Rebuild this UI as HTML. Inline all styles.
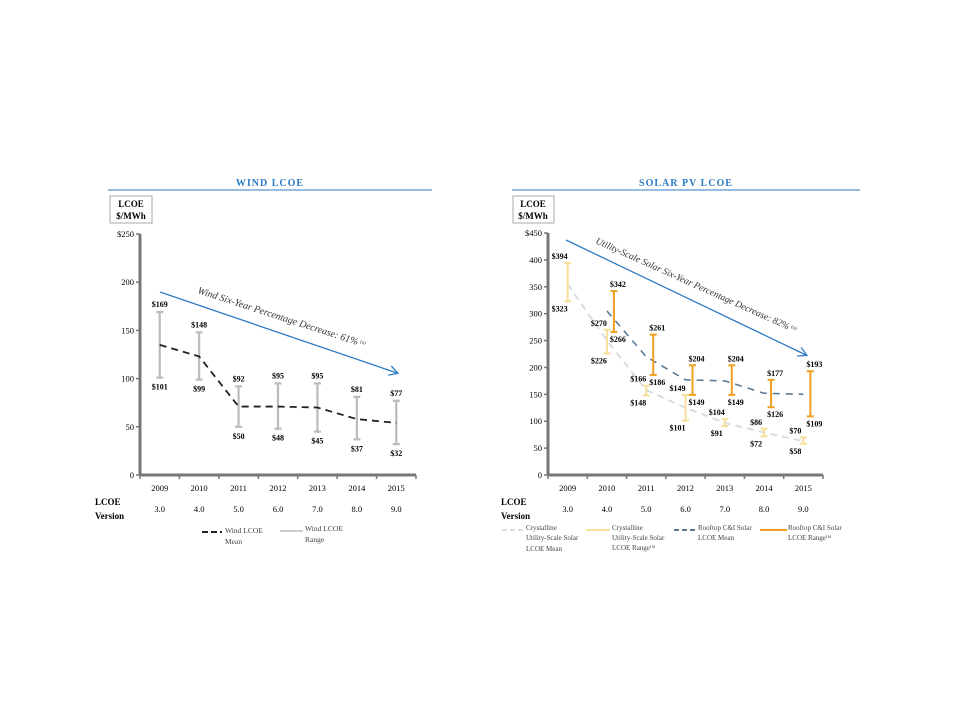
<!DOCTYPE html>
<html><head><meta charset="utf-8">
<style>
body{margin:0;background:#fff;width:960px;height:720px;overflow:hidden;font-family:"Liberation Serif",serif;}
svg{position:absolute;left:0;top:0}
</style></head>
<body>
<svg id="c" width="960" height="720" viewBox="0 0 960 720">
<defs>
<marker id="ah" markerWidth="10" markerHeight="10" refX="8" refY="5" orient="auto" markerUnits="userSpaceOnUse">
<path d="M0,0 L9,5 L0,10" fill="none" stroke="#2e7bc4" stroke-width="1.3"/></marker>
</defs>
<text x="270" y="186" text-anchor="middle" font-size="10" font-weight="bold" fill="#2e7bc4" letter-spacing="1">WIND LCOE</text>
<line x1="108" y1="190" x2="432" y2="190" stroke="#2e7bc4" stroke-width="1"/>
<rect x="110" y="196" width="42" height="27" fill="#fff" stroke="#aaa"/>
<text x="131" y="207" text-anchor="middle" font-size="9" font-weight="bold">LCOE</text>
<text x="131" y="219" text-anchor="middle" font-size="9" font-weight="bold">$/MWh</text>
<text x="95" y="505" font-size="9" font-weight="bold">LCOE</text>
<text x="95" y="519" font-size="9" font-weight="bold">Version</text>
<g>
<line x1="202" y1="532" x2="222" y2="532" stroke="#222" stroke-width="2" stroke-dasharray="6,3"/>
<text x="225" y="533" font-size="7.5" fill="#444">Wind LCOE</text><text x="225" y="544" font-size="7.5" fill="#444">Mean</text>
<line x1="280" y1="531" x2="303" y2="531" stroke="#bbb" stroke-width="1.5"/>
<text x="305" y="531" font-size="7.5" fill="#444">Wind LCOE</text><text x="305" y="542" font-size="7.5" fill="#444">Range</text>
</g>
<text x="686" y="186" text-anchor="middle" font-size="10" font-weight="bold" fill="#2e7bc4" letter-spacing="1">SOLAR PV LCOE</text>
<line x1="512" y1="190" x2="860" y2="190" stroke="#2e7bc4" stroke-width="1"/>
<rect x="513" y="196" width="41" height="27" fill="#fff" stroke="#aaa"/>
<text x="533" y="207" text-anchor="middle" font-size="9" font-weight="bold">LCOE</text>
<text x="533" y="219" text-anchor="middle" font-size="9" font-weight="bold">$/MWh</text>
<text x="501" y="505" font-size="9" font-weight="bold">LCOE</text>
<text x="501" y="519" font-size="9" font-weight="bold">Version</text>
<g font-size="7" fill="#444">
<line x1="502" y1="530" x2="524" y2="530" stroke="#d8dde2" stroke-width="2" stroke-dasharray="5,3"/>
<text x="526" y="530">Crystalline</text><text x="526" y="540">Utility-Scale Solar</text><text x="526" y="551">LCOE Mean</text>
<line x1="586" y1="530" x2="610" y2="530" stroke="#f7df9a" stroke-width="2"/>
<text x="612" y="530">Crystalline</text><text x="612" y="540">Utility-Scale Solar</text><text x="612" y="550">LCOE Range⁽ᵇ⁾</text>
<line x1="674" y1="530" x2="696" y2="530" stroke="#5a7a96" stroke-width="2" stroke-dasharray="5,3"/>
<text x="698" y="530">Rooftop C&amp;I Solar</text><text x="698" y="540">LCOE Mean</text>
<line x1="760" y1="530" x2="787" y2="530" stroke="#f0a020" stroke-width="2"/>
<text x="788" y="530">Rooftop C&amp;I Solar</text><text x="788" y="540">LCOE Range⁽ᵇ⁾</text>
</g>
</svg>
<script>
const years=["2009","2010","2011","2012","2013","2014","2015"];
const versions=["3.0","4.0","5.0","6.0","7.0","8.0","9.0"];
const windHigh=[169,148,92,95,95,81,77];
const windLow=[101,99,50,48,45,37,32];
const windMean=[135,123,71,71,70,58,54];
const windTicks=[0,50,100,150,200,250];
const usHigh=[394,270,166,149,104,86,70];
const usLow=[323,226,148,101,91,72,58];
const usMean=[355,250,158,125,97,79,63];
const rtHigh=[null,342,261,204,204,177,193];
const rtLow=[null,266,186,149,149,126,109];
const rtMean=[null,305,220,177,175,152,150];
const solarTicks=[0,50,100,150,200,250,300,350,400,450];

const svg=document.getElementById('c');
const NS='http://www.w3.org/2000/svg';
function mk(tag,attrs,parent,txt){const e=document.createElementNS(NS,tag);for(const k in attrs)e.setAttribute(k,attrs[k]);if(txt!=null)e.textContent=txt;(parent||svg).appendChild(e);return e;}

function drawAxes(name,x0,x1,y0,yTop,maxV,ticks,x,y){
  const g=mk('g',{});
  
  
  mk('line',{x1:x0,y1:yTop,x2:x0,y2:y0,stroke:'#777','stroke-width':3},g);
  mk('line',{x1:x0,y1:y0,x2:x1,y2:y0,stroke:'#777','stroke-width':3},g);
  ticks.forEach((t,i)=>{
    mk('line',{x1:x0-4,y1:y(t),x2:x0,y2:y(t),stroke:'#777','stroke-width':1.5},g);
    const lab=mk('text',{x:x0-6,y:y(t)+3,'text-anchor':'end','font-size':8.5},g,i===ticks.length-1?'$'+t:String(t));
    
    
  });
  const step=(x1-x0)/7;
  for(let i=0;i<=7;i++) mk('line',{x1:x0+i*step,y1:y0,x2:x0+i*step,y2:y0+4,stroke:'#777','stroke-width':1.5},g);
  years.forEach((yr,i)=>{
    const t=mk('text',{x:x(i),y:y0+16,'text-anchor':'middle','font-size':8.5},g,yr);
    
    
    const v=mk('text',{x:x(i),y:y0+37,'text-anchor':'middle','font-size':8.5},g,versions[i]);
    
    
  });
}
function errbar(xc,hi,lo,y,color,w,name){
  const g=mk('g',{});
  
  
  mk('line',{x1:xc,y1:y(hi),x2:xc,y2:y(lo),stroke:color,'stroke-width':w},g);
  mk('line',{x1:xc-3.5,y1:y(hi),x2:xc+3.5,y2:y(hi),stroke:color,'stroke-width':w},g);
  mk('line',{x1:xc-3.5,y1:y(lo),x2:xc+3.5,y2:y(lo),stroke:color,'stroke-width':w},g);
}
function label(x,yy,txt,name){
  const t=mk('text',{x:x,y:yy,'text-anchor':'middle','font-size':8,'font-weight':'bold'},null,txt);
  
  
}
function trendText(tx,ty,ang,fs,str,name){
  const t=mk('text',{x:0,y:0,'font-size':fs,fill:'#333','font-style':'italic',transform:'translate('+tx+','+ty+') rotate('+ang+')'});
  
  
  mk('tspan',{},t,str);
  mk('tspan',{'font-size':5,dy:-3,dx:2},t,'(a)');
}

// WIND
(function(){
  const x0=140,x1=416,y0=475,yTop=234,maxV=250;
  const y=v=>y0-(v/maxV)*(y0-yTop);
  const step=(x1-x0)/7;
  const x=i=>x0+step*(i+0.5);
  drawAxes('wind',x0,x1,y0,yTop,maxV,windTicks,x,y);
  years.forEach((_,i)=>{
    errbar(x(i),windHigh[i],windLow[i],y,'#bbb',2.2,'wind-range-'+years[i]);
    label(x(i),y(windHigh[i])-5,'$'+windHigh[i],'wind-high-label');
    label(x(i),y(windLow[i])+12,'$'+windLow[i],'wind-low-label');
  });
  const p=mk('polyline',{points:windMean.map((v,i)=>x(i)+','+y(v)).join(' '),fill:'none',stroke:'#222','stroke-width':1.8,'stroke-dasharray':'7,5'});
  
  
  const a=mk('line',{x1:160,y1:292,x2:397,y2:373,stroke:'#2e7bc4','stroke-width':1.3,'marker-end':'url(#ah)'});
  
  
  trendText(197,293,18,10,'Wind Six-Year Percentage Decrease: 61%','wind-trend-label');
})();

// SOLAR
(function(){
  const x0=548,x1=823,y0=475,yTop=233,maxV=450;
  const y=v=>y0-(v/maxV)*(y0-yTop);
  const step=(x1-x0)/7;
  const x=i=>x0+step*(i+0.5);
  drawAxes('solar',x0,x1,y0,yTop,maxV,solarTicks,x,y);
  const pu=mk('polyline',{points:usMean.map((v,i)=>x(i)+','+y(v)).join(' '),fill:'none',stroke:'#d8dde2','stroke-width':2,'stroke-dasharray':'7,5'});
  
  
  const rp=[];rtMean.forEach((v,i)=>{if(v!=null)rp.push(x(i)+','+y(v));});
  const pr=mk('polyline',{points:rp.join(' '),fill:'none',stroke:'#5a7a96','stroke-width':1.6,'stroke-dasharray':'7,6'});
  
  
  years.forEach((_,i)=>{
    const xu=x(i),xr=x(i)+7;
    errbar(xu,usHigh[i],usLow[i],y,'#f7df9a',2,'utility-range-'+years[i]);
    label(xu-8,y(usHigh[i])-4,'$'+usHigh[i],'utility-high-label');
    label(xu-8,y(usLow[i])+10,'$'+usLow[i],'utility-low-label');
    if(rtHigh[i]!=null){
      errbar(xr,rtHigh[i],rtLow[i],y,'#f0a020',2,'rooftop-range-'+years[i]);
      label(xr+4,y(rtHigh[i])-4,'$'+rtHigh[i],'rooftop-high-label');
      label(xr+4,y(rtLow[i])+10,'$'+rtLow[i],'rooftop-low-label');
    }
  });
  const a=mk('line',{x1:566,y1:240,x2:806,y2:355,stroke:'#2e7bc4','stroke-width':1.3,'marker-end':'url(#ah)'});
  
  
  trendText(595,243,24.2,9.5,'Utility-Scale Solar Six-Year Percentage Decrease: 82%','solar-trend-label');
})();
</script>
</body></html>
